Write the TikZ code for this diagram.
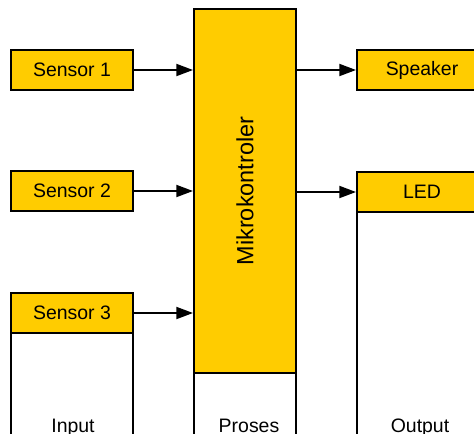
\documentclass[tikz,border=0pt]{standalone}
\usepackage{fontspec}
\setmainfont{Liberation Sans}
\usepackage{tikz}
\usetikzlibrary{arrows.meta, positioning, calc}
\usepackage{xcolor}
\definecolor{blockyellow}{HTML}{FFCC00}
\tikzstyle{unit} = [rectangle, draw=black, line width=1.5pt, fill=blockyellow,
    minimum width=91.5pt, minimum height=30pt, inner sep=0pt,
    font=\fontsize{14.6}{17}\selectfont]
\tikzstyle{group} = [rectangle, draw=black, line width=1.5pt, fill=white, inner sep=0pt]
\tikzstyle{grplbl} = [anchor=base, inner sep=0pt, font=\fontsize{14.6}{17}\selectfont]
\tikzstyle{arrow} = [line width=1.4pt, -{Triangle[length=12.5pt, width=9pt]}]

\begin{document}
\begin{tikzpicture}[x=0.75pt, y=-0.75pt]
\useasboundingbox (0,0) rectangle (474,433);
\clip (0,0) rectangle (474,433);
% --- kelompok (input / proses / output) ---
\node (inputgrp) [group, minimum width=91.5pt, minimum height=132.75pt] at (72,381.5) {};
\node (prosesgrp) [group, minimum width=76.5pt, minimum height=345.75pt] at (245,239.5) {};
\node (outputgrp) [group, minimum width=97.5pt, minimum height=223.5pt] at (422,321) {};
\node (inputlbl) [grplbl] at (73,432) {Input};
\node (proseslbl) [grplbl] at (249,432) {Proses};
\node (outputlbl) [grplbl] at (420,432) {Output};

% --- kolom kiri (sensor) ---
\node (sensor1) [unit] at (72,70) {Sensor 1};
\node (sensor2) [unit] at (72,191) {Sensor 2};
\node (sensor3) [unit] at (72,313) {Sensor 3};

% --- kolom tengah (diputar 90 derajat) ---
\node (mcu) [unit, minimum width=273pt, minimum height=76.5pt, rotate=90,
    font=\fontsize{17.6}{20}\selectfont] at (245,191) {Mikrokontroler};

% --- kolom kanan ---
\node (speaker) [unit, minimum width=97.5pt] at (422,70) {Speaker};
\node (led) [unit, minimum width=97.5pt] at (422,192) {LED};

% --- panah ---
\draw[arrow] (sensor1.east) -- (sensor1 -| mcu.north);
\draw[arrow] (sensor2.east) -- (sensor2 -| mcu.north);
\draw[arrow] (sensor3.east) -- (sensor3 -| mcu.north);
\draw[arrow] (speaker -| mcu.south) -- (speaker.west);
\draw[arrow] (led -| mcu.south) -- (led.west);
\end{tikzpicture}
\end{document}
